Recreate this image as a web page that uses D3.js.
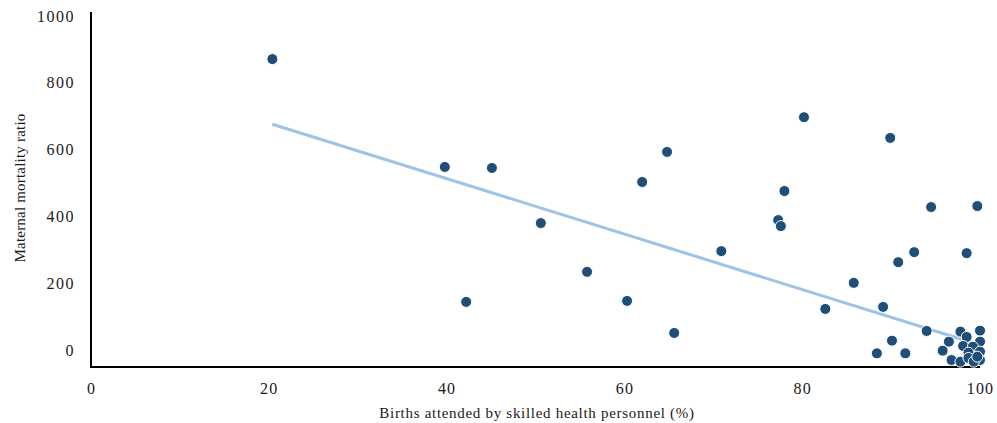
<!DOCTYPE html>
<html><head><meta charset="utf-8">
<script src="https://cdn.jsdelivr.net/npm/d3@7"></script>
<style>body{margin:0;background:#fff}svg{display:block}</style>
</head><body>
<svg id="c" width="997" height="423"></svg>
<script>
const birthsAttended = [20.4,39.8,45.1,42.2,50.6,55.8,60.3,62.0,64.8,65.6,70.9,77.3,77.6,78.0,80.2,82.6,85.8,88.4,89.1,89.9,90.1,90.8,91.6,92.6,94.0,94.5,95.8,96.5,96.8,97.8,98.5,99.7,
 100,97.8,98.5,100,98.1,99.2,100,98.7,97.8,98.7,100,99.3,99.7];
const maternalMortality = [871,548,545,144,380,234,147,503,593,51,296,389,371,476,697,123,201,-10,129,635,28,263,-10,293,57,428,-2,25,-30,55,290,431,
 58,55,39,25,12,10,-5,-8,-35,-24,-30,-35,-20];
const trendX = [20.4, 100];
const trendY = [676, 15];
const xTicks = [0,20,40,60,80,100];
const yTicks = [0,200,400,600,800,1000];

const svg = d3.select("#c");
const x = d3.scaleLinear().domain([0,100]).range([91,980]);
const y = d3.scaleLinear().domain([-50,1000]).range([366.7,16]);
const font = "Liberation Serif";

// axes
const xAxis = svg.append("g").attr("transform","translate(0,367)")
  .call(d3.axisBottom(x).tickValues(xTicks).tickFormat(d3.format("d")).tickSize(0).tickPadding(16));
xAxis.select(".domain").attr("stroke","#000").attr("stroke-width",2).attr("d",`M${x(0)-1},0H${x(100)}`);
xAxis.selectAll("text").attr("font-family",font).attr("font-size",16).attr("letter-spacing","1.2px").attr("fill","#1a1a1a");

const yAxis = svg.append("g").attr("transform","translate(91,0)")
  .call(d3.axisLeft(y).tickValues(yTicks).tickFormat(d3.format("d")).tickSize(0).tickPadding(16));
yAxis.select(".domain").attr("stroke","#000").attr("stroke-width",2).attr("d",`M0,12V367`);
yAxis.selectAll("text").attr("font-family",font).attr("font-size",16).attr("letter-spacing","1.5px").attr("fill","#1a1a1a");

// trend line
svg.append("line")
  .attr("x1",x(trendX[0])).attr("y1",y(trendY[0]))
  .attr("x2",x(trendX[1])).attr("y2",y(trendY[1]))
  .attr("stroke","#9dc3e6").attr("stroke-width",3);

// points
svg.append("g").selectAll("circle").data(birthsAttended.map((v,i)=>[v,maternalMortality[i]]))
  .join("circle")
  .attr("cx",d=>x(d[0])).attr("cy",d=>y(d[1])).attr("r",5.5)
  .attr("fill","#1f4e79").attr("stroke","#fff").attr("stroke-width",1);

// titles
svg.append("text").attr("x",537).attr("y",418).attr("text-anchor","middle")
  .attr("font-family",font).attr("font-size",15).attr("letter-spacing","0.7px").attr("fill","#1a1a1a")
  .text("Births attended by skilled health personnel (%)");
svg.append("text").attr("transform","translate(25,188) rotate(-90)").attr("text-anchor","middle")
  .attr("font-family",font).attr("font-size",15).attr("letter-spacing","0.2px").attr("fill","#1a1a1a")
  .text("Maternal mortality ratio");
</script>
</body></html>
